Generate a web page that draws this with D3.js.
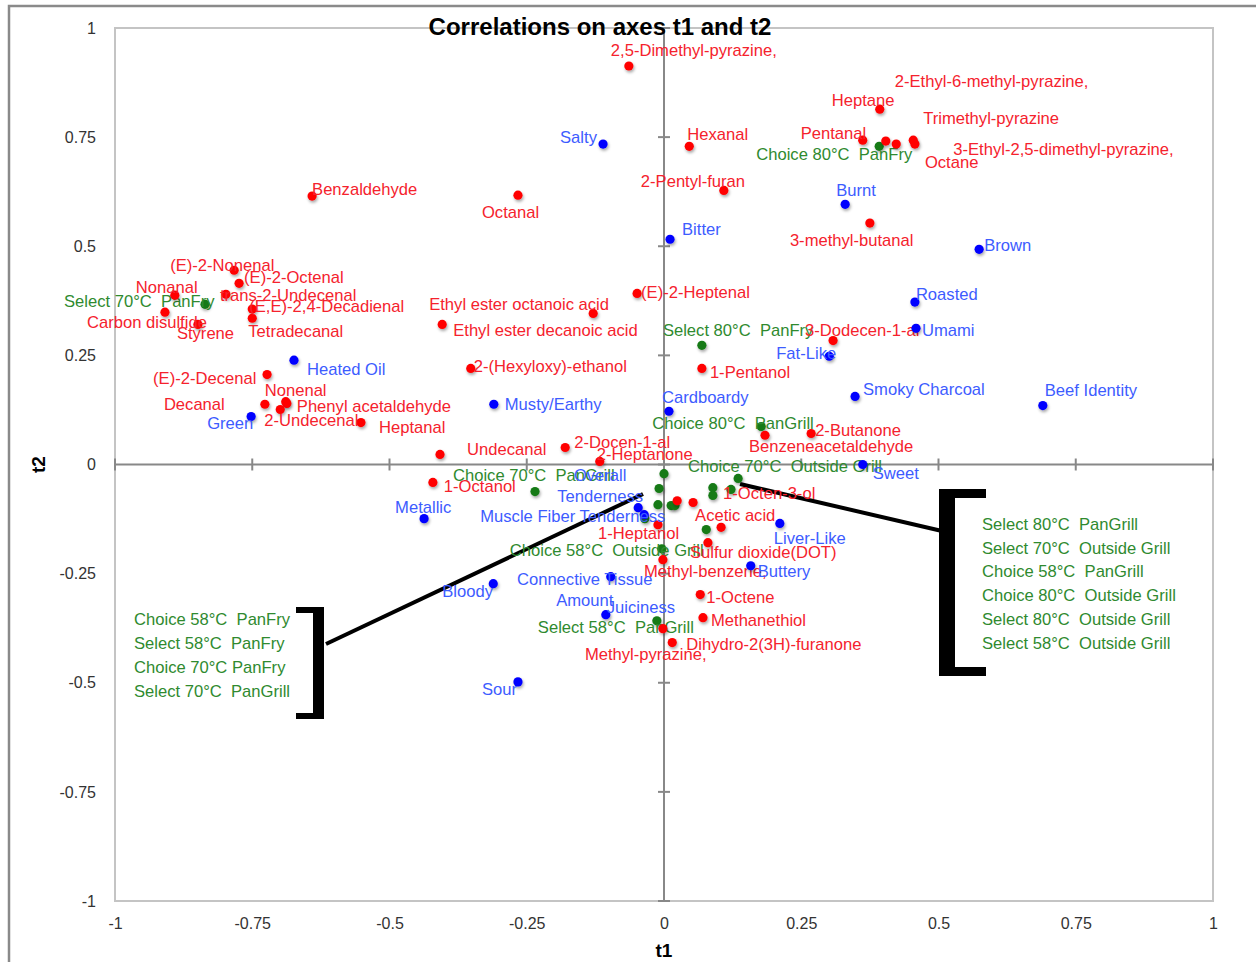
<!DOCTYPE html>
<html>
<head>
<meta charset="utf-8">
<script src="https://cdn.jsdelivr.net/npm/d3@7"></script>
<style>
  body { margin: 0; background: #fff; }
  svg text { font-family: "Liberation Sans", Arial, sans-serif; white-space: pre; }
</style>
</head>
<body>
<svg id="chart"></svg>
<script>
const WIDTH = 1256;
const HEIGHT = 962;

// tick values on both axes
const ticks = [-1, -0.75, -0.5, -0.25, 0, 0.25, 0.5, 0.75, 1];

// variables: volatile compounds (red)
const redNames = ["2,5-Dimethyl-pyrazine,", "Benzaldehyde", "Octanal", "Hexanal", "2-Pentyl-furan", "Heptane",
  "Pentanal", "2-Ethyl-6-methyl-pyrazine,", "Trimethyl-pyrazine", "3-Ethyl-2,5-dimethyl-pyrazine,", "Octane",
  "3-methyl-butanal", "(E)-2-Nonenal", "(E)-2-Octenal", "trans-2-Undecenal", "Nonanal", "(E,E)-2,4-Decadienal",
  "Tetradecanal", "Carbon disulfide", "Styrene", "(E)-2-Decenal", "Decanal", "Nonenal", "Phenyl acetaldehyde",
  "2-Undecenal", "Heptanal", "Ethyl ester octanoic acid", "Ethyl ester decanoic acid", "(E)-2-Heptenal",
  "2-(Hexyloxy)-ethanol", "1-Pentanol", "3-Dodecen-1-al", "2-Butanone", "Benzeneacetaldehyde", "Undecanal",
  "2-Docen-1-al", "2-Heptanone", "1-Octanol", "1-Octen-3-ol", "", "Acetic acid", "Sulfur dioxide(DOT)",
  "1-Heptanol", "Methyl-benzene,", "1-Octene", "Methanethiol", "Methyl-pyrazine,", "Dihydro-2(3H)-furanone"];
const redT1 = [-0.064, -0.641, -0.266, 0.046, 0.109, 0.393, 0.362, 0.404, 0.423, 0.454, 0.457, 0.375, -0.783,
  -0.774, -0.798, -0.891, -0.750, -0.750, -0.909, -0.849, -0.723, -0.727, -0.689, -0.687, -0.699, -0.552,
  -0.129, -0.404, -0.049, -0.352, 0.069, 0.308, 0.268, 0.184, -0.408, -0.180, -0.117, -0.421, 0.053, 0.024,
  0.104, 0.080, -0.011, -0.002, 0.066, 0.071, -0.002, 0.015];
const redT2 = [0.913, 0.615, 0.617, 0.729, 0.628, 0.814, 0.743, 0.741, 0.734, 0.743, 0.734, 0.553, 0.445,
  0.415, 0.390, 0.388, 0.356, 0.335, 0.349, 0.321, 0.206, 0.138, 0.144, 0.140, 0.126, 0.096, 0.346, 0.321,
  0.392, 0.220, 0.220, 0.284, 0.071, 0.067, 0.023, 0.039, 0.007, -0.041, -0.087, -0.083, -0.144, -0.179,
  -0.138, -0.218, -0.298, -0.351, -0.376, -0.408];

// variables: sensory attributes (blue)
const blueNames = ["Salty", "Burnt", "Brown", "Bitter", "Roasted", "Umami", "Fat-Like", "Smoky Charcoal",
  "Beef Identity", "Heated Oil", "Green", "Musty/Earthy", "Cardboardy", "Sweet", "Metallic",
  "Overall\nTenderness", "Muscle Fiber Tenderness", "Liver-Like", "Buttery", "Bloody",
  "Connective Tissue\nAmount", "Juiciness", "Sour"];
const blueT1 = [-0.111, 0.330, 0.574, 0.011, 0.457, 0.459, 0.301, 0.348, 0.690, -0.674, -0.752, -0.310,
  0.009, 0.362, -0.437, -0.047, -0.036, 0.211, 0.158, -0.311, -0.097, -0.106, -0.266];
const blueT2 = [0.734, 0.596, 0.493, 0.516, 0.372, 0.312, 0.248, 0.156, 0.135, 0.239, 0.110, 0.138, 0.122,
  0.000, -0.124, -0.099, -0.115, -0.135, -0.232, -0.273, -0.257, -0.344, -0.498];

// observations: grade / endpoint temperature / cooking method (green)
const greenNames = ["Choice 80°C  PanFry", "Select 70°C  PanFry", "Select 80°C  PanFry", "Choice 80°C  PanGrill",
  "Choice 70°C  Outside Grill", "Choice 70°C  PanGrill", "Choice 58°C  Outside Grill", "Select 58°C  PanGrill"];
const greenT1 = [0.392, -0.836, 0.069, 0.177, 0.135, -0.235, -0.004, -0.013];
const greenT2 = [0.729, 0.367, 0.273, 0.087, -0.032, -0.062, -0.193, -0.358];

// observations listed in the bracket boxes
const rightGroup = ["Select 80°C  PanGrill", "Select 70°C  Outside Grill", "Choice 58°C  PanGrill",
  "Choice 80°C  Outside Grill", "Select 80°C  Outside Grill", "Select 58°C  Outside Grill"];
const rightT1 = [0.089, 0.089, 0.122, 0.077, 0.013, 0.020];
const rightT2 = [-0.053, -0.071, -0.057, -0.149, -0.094, -0.094];
const leftGroup = ["Choice 58°C  PanFry", "Select 58°C  PanFry", "Choice 70°C PanFry", "Select 70°C  PanGrill"];
const leftT1 = [0.000, -0.009, -0.011, -0.035];
const leftT2 = [-0.021, -0.055, -0.092, -0.124];

// label placement relative to the marker, in pixels: [dx, dy(centre), anchor]
const redOffsets = [[-18, -16], [0, -7], [-36, 17], [-2, -12], [-83, -9], [-48, -9], [-62, -7], [9, -60],
  [27, -26], [40, 9], [10, 18], [-80, 17], [-64, -5], [5, -6], [-6, 1], [-39, -8], [-3, -3], [-4, 13],
  [-78, 10], [-21, 9], [-114, 4], [-101, 0], [-21, -11], [10, 3], [-16, 11], [18, 5], [-164, -9], [11, 6],
  [4, -1], [3, -2], [8, 4], [-28, -10], [4, -3], [-16, 11], [27, -5], [9, -5], [-3, -7], [11, 4], [30, -9],
  [0, 0], [-26, -12], [-18, 10], [-60, 8], [-19, 12], [6, 3], [8, 2], [-78, 26], [14, 2]];
const blueOffsets = [[-43, -7], [-9, -14], [5, -4], [12, -10], [1, -8], [6, 2], [-53, -3], [8, -7], [2, -15],
  [13, 9], [-44, 7], [11, 0], [-7, -14], [10, 9], [-29, -11], [-38, -33, "middle"], [-164, 1], [-6, 15],
  [7, 5], [-51, 8], [-26, 3, "middle"], [1, -7], [-36, 7]];
const greenOffsets = [[-123, 8], [-141, -3], [-39, -15], [-109, -3], [-50, -12], [-82, -16], [-152, 1], [-119, 6]];

const RED = "#ff0000", RED_TXT = "#f5222d";
const BLUE = "#0000ff", BLUE_TXT = "#3d5cff";
const GREEN = "#157a15", GREEN_TXT = "#2f8a2f";
const LABEL_SIZE = 16.6;

const svg = d3.select("#chart").attr("width", WIDTH).attr("height", HEIGHT);

const x = d3.scaleLinear().domain([-1, 1]).range([115, 1213]);
const y = d3.scaleLinear().domain([-1, 1]).range([901, 28]);

/* drop shadow under the markers */
const filter = svg.append("defs").append("filter").attr("id", "shadow")
  .attr("x", "-100%").attr("y", "-100%").attr("width", "300%").attr("height", "300%");
filter.append("feDropShadow").attr("dx", 1).attr("dy", 2).attr("stdDeviation", 1.6)
  .attr("flood-color", "#000").attr("flood-opacity", 0.35);

/* outer chart frame */
svg.append("rect").attr("x", 9).attr("y", 6).attr("width", WIDTH).attr("height", HEIGHT)
  .attr("fill", "none").attr("stroke", "#8a8a8a").attr("stroke-width", 2.5);

/* plot frame */
svg.append("rect").attr("x", x(-1)).attr("y", y(1)).attr("width", x(1) - x(-1)).attr("height", y(-1) - y(1))
  .attr("fill", "none").attr("stroke", "#c4c4c4").attr("stroke-width", 2);

/* tick labels on the frame edges */
const fmt = (d) => (d === 0 ? "0" : String(d));
const yAxis = svg.append("g").attr("transform", `translate(${x(-1)},0)`)
  .call(d3.axisLeft(y).tickValues(ticks).tickFormat(fmt).tickSize(0).tickPadding(19));
const xAxis = svg.append("g").attr("transform", `translate(0,${y(-1)})`)
  .call(d3.axisBottom(x).tickValues(ticks).tickFormat(fmt).tickSize(0).tickPadding(17));
[xAxis, yAxis].forEach((a) => {
  a.select(".domain").remove();
  a.selectAll("text").attr("font-size", 16).attr("fill", "#333")
    .style("font-family", "'Liberation Sans', Arial, sans-serif");
});

/* axes through the origin with crossing ticks */
const zero = svg.append("g").attr("stroke", "#888").attr("stroke-width", 2);
zero.append("line").attr("x1", x(-1)).attr("x2", x(1)).attr("y1", y(0)).attr("y2", y(0));
zero.append("line").attr("x1", x(0)).attr("x2", x(0)).attr("y1", y(1)).attr("y2", y(-1));
zero.selectAll(".xt").data(ticks).enter().append("line")
  .attr("x1", (d) => x(d)).attr("x2", (d) => x(d)).attr("y1", y(0) - 6).attr("y2", y(0) + 6);
zero.selectAll(".yt").data(ticks).enter().append("line")
  .attr("x1", x(0) - 6).attr("x2", x(0) + 6).attr("y1", (d) => y(d)).attr("y2", (d) => y(d));

/* title and axis names */
svg.append("text").attr("x", 600).attr("y", 35).attr("text-anchor", "middle")
  .attr("font-size", 24).attr("font-weight", "bold").attr("fill", "#000")
  .text("Correlations on axes t1 and t2");
svg.append("text").attr("x", x(0)).attr("y", 957).attr("text-anchor", "middle")
  .attr("font-size", 19).attr("font-weight", "bold").text("t1");
svg.append("text").attr("transform", `translate(45,${y(0)}) rotate(-90)`).attr("text-anchor", "middle")
  .attr("font-size", 19).attr("font-weight", "bold").text("t2");

/* connector lines and brackets for the grouped observations */
const ink = svg.append("g");
ink.append("line").attr("x1", 740).attr("y1", 484).attr("x2", 942).attr("y2", 531)
  .attr("stroke", "#000").attr("stroke-width", 4);
ink.append("line").attr("x1", 643).attr("y1", 494).attr("x2", 326).attr("y2", 644)
  .attr("stroke", "#000").attr("stroke-width", 4);
ink.append("path").attr("fill", "#000")
  .attr("d", "M939,489 H986 V498 H955 V667 H986 V676 H939 Z");
ink.append("path").attr("fill", "#000")
  .attr("d", "M296,607 H324 V719 H296 V713 H313 V613 H296 Z");

function drawGroup(names, t1, t2, pointColor, textColor, offsets) {
  const g = svg.append("g");
  const rows = names.map((n, i) => ({ name: n, t1: t1[i], t2: t2[i], off: offsets ? offsets[i] : null }));
  g.selectAll("circle").data(rows).enter().append("circle")
    .attr("cx", (d) => x(d.t1)).attr("cy", (d) => y(d.t2)).attr("r", 4.6)
    .attr("fill", pointColor).attr("filter", "url(#shadow)");
  if (!offsets) return;
  const labels = g.selectAll("text").data(rows.filter((d) => d.name !== "")).enter().append("text")
    .attr("font-size", LABEL_SIZE).attr("fill", textColor)
    .attr("text-anchor", (d) => d.off[2] || "start");
  labels.each(function (d) {
    const lines = d.name.split("\n");
    const el = d3.select(this);
    lines.forEach((line, k) => {
      el.append("tspan")
        .attr("x", x(d.t1) + d.off[0])
        .attr("y", y(d.t2) + d.off[1] + k * 21)
        .attr("dy", "0.35em")
        .text(line);
    });
  });
}

drawGroup(rightGroup, rightT1, rightT2, GREEN, GREEN_TXT, null);
drawGroup(leftGroup, leftT1, leftT2, GREEN, GREEN_TXT, null);
drawGroup(greenNames, greenT1, greenT2, GREEN, GREEN_TXT, greenOffsets);
drawGroup(redNames, redT1, redT2, RED, RED_TXT, redOffsets);
drawGroup(blueNames, blueT1, blueT2, BLUE, BLUE_TXT, blueOffsets);

/* bracket lists */
svg.append("g").selectAll("text").data(rightGroup).enter().append("text")
  .attr("x", 982).attr("y", (d, i) => 524 + i * 23.8).attr("dy", "0.35em")
  .attr("font-size", LABEL_SIZE).attr("fill", GREEN_TXT).text((d) => d);
svg.append("g").selectAll("text").data(leftGroup).enter().append("text")
  .attr("x", 134).attr("y", (d, i) => 619 + i * 24).attr("dy", "0.35em")
  .attr("font-size", LABEL_SIZE).attr("fill", GREEN_TXT).text((d) => d);
</script>
</body>
</html>
